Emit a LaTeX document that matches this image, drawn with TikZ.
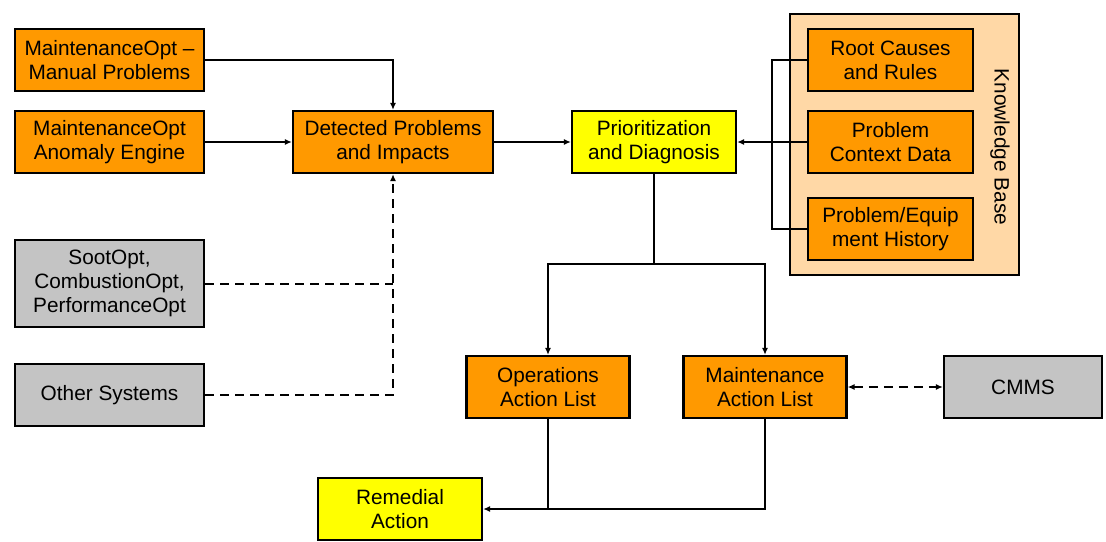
\documentclass[tikz,border=0pt]{standalone}
\usepackage{fontspec}
\setmainfont{Liberation Sans}
\usetikzlibrary{arrows.meta}
\definecolor{boxorange}{HTML}{FF9900}
\definecolor{boxyellow}{HTML}{FFFF00}
\definecolor{boxgray}{HTML}{C4C4C4}
\definecolor{kbfill}{HTML}{FFD8A6}
\tikzset{
  box/.style={draw=black, line width=2.2pt, minimum height=62pt, align=center,
    inner sep=2pt, font=\fontsize{20.8}{24}\selectfont},
  obox/.style={box, fill=boxorange},
  ybox/.style={box, fill=boxyellow},
  gbox/.style={box, fill=boxgray},
  conn/.style={draw=black, line width=2pt},
  arr/.style={conn, -{Latex[length=7pt,width=6pt]}},
  dconn/.style={conn, dash pattern=on 9pt off 6pt},
}
\begin{document}
\begin{tikzpicture}[x=1pt,y=-1pt]
\useasboundingbox (0,0) rectangle (1106,541);
\fill[white] (0,0) rectangle (1106,541);

% knowledge base frame
\node[draw=black, line width=2pt, fill=kbfill, minimum width=229pt, minimum height=261pt, inner sep=0pt] (kb) at (904.5,144.5) {};
\node[rotate=-90, font=\fontsize{20.8}{24}\selectfont] (kblabel) at (1000,147) {Knowledge Base};

% left column
\node[obox, minimum width=189pt] (man) at (109.5,60) {MaintenanceOpt –\\Manual Problems};
\node[obox, minimum width=189pt] (ano) at (109.5,142) {MaintenanceOpt\\Anomaly Engine};
\node[gbox, minimum width=189pt, minimum height=87pt] (soot) at (109.5,283.5) {SootOpt,\\CombustionOpt,\\PerformanceOpt};
\node[gbox, minimum width=189pt] (other) at (109.5,395) {Other Systems};

% middle
\node[obox, minimum width=200pt] (det) at (393,142) {Detected Problems\\and Impacts};
\node[ybox, minimum width=164pt] (prio) at (654,142) {Prioritization\\and Diagnosis};

% knowledge base boxes
\node[obox, minimum width=165pt] (root) at (890.5,60) {Root Causes\\and Rules};
\node[obox, minimum width=165pt] (ctx) at (890.5,142) {Problem\\Context Data};
\node[obox, minimum width=165pt] (hist) at (890.5,229) {Problem/Equip\\ment History};

% action lists
\node[obox, minimum width=163pt] (ops) at (548,387) {Operations\\Action List};
\node[obox, minimum width=163pt] (mnt) at (765,387) {Maintenance\\Action List};
\node[gbox, minimum width=158pt] (cmms) at (1023,387) {CMMS};
\node[ybox, minimum width=164pt] (rem) at (400,509) {Remedial\\Action};

\coordinate (bus) at (772,0);
\coordinate (split) at (654,264);

% connectors
\draw[arr] (man.east) -| (det.north);
\draw[arr] (ano.east) -- (det.west);
\draw[arr] (det.east) -- (prio.west);
\draw[dconn] (soot.east) -- (soot.east -| det.south);
\draw[dconn, -{Latex[length=7pt,width=6pt]}] (other.east) -| (det.south);

\draw[conn] (root.west) -- (root.west -| bus) -- (hist.west -| bus) -- (hist.west);
\draw[arr] (ctx.west) -- (prio.east);

\draw[conn] (prio.south) -- (split);
\draw[arr] (split) -| (ops.north);
\draw[arr] (split) -| (mnt.north);

\draw[conn] (ops.south) -- (ops.south |- rem.east);
\draw[arr] (mnt.south) |- (rem.east);

\draw[dconn, {Latex[length=7pt,width=6pt]}-{Latex[length=7pt,width=6pt]}] (mnt.east) -- (cmms.west);
\end{tikzpicture}
\end{document}
